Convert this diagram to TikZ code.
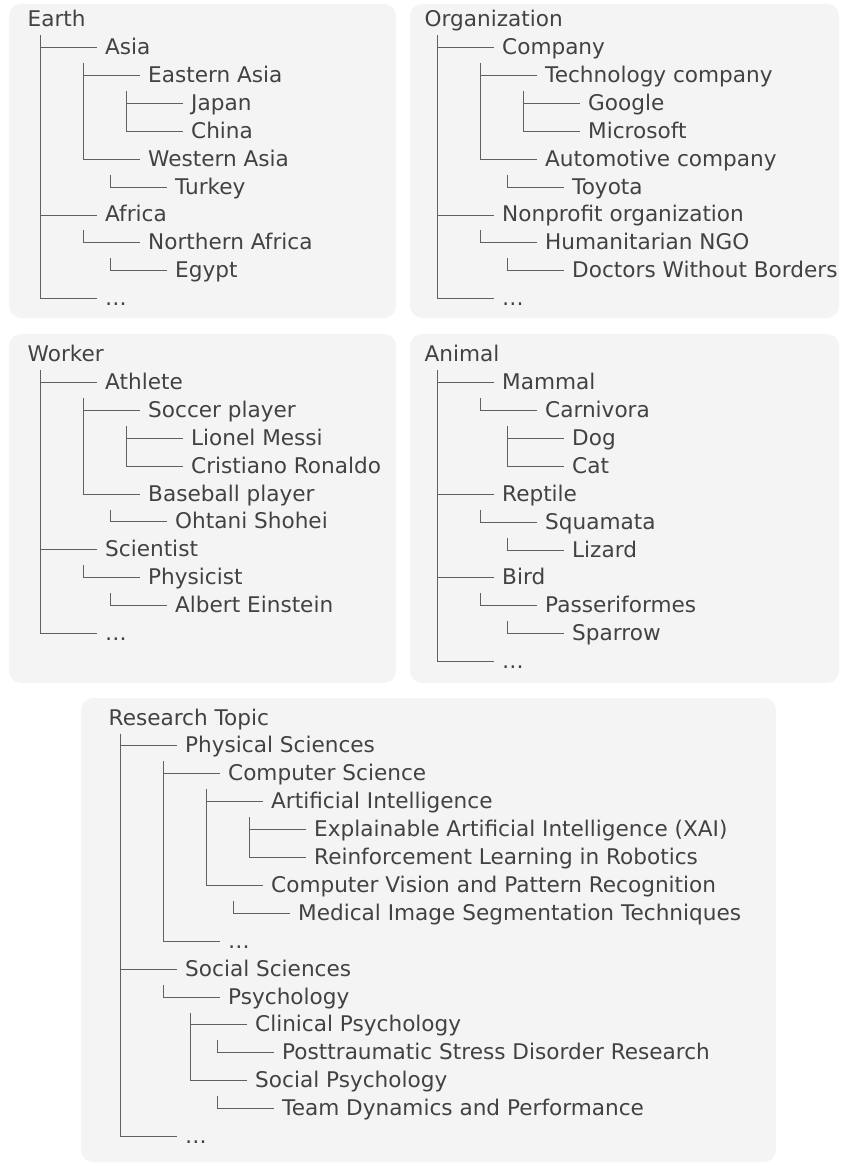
\documentclass[tikz,border=0pt]{standalone}
\usepackage{fontspec}
\setmainfont{DejaVu Sans}
\definecolor{boxbg}{HTML}{F4F4F4}
\definecolor{txt}{HTML}{424242}
\definecolor{ln}{HTML}{606060}
\tikzset{
  panel/.style={fill=boxbg, draw=none, rounded corners=12pt},
  lbl/.style={anchor=base west, inner sep=0pt, text=txt, font=\fontsize{21.6}{26}\selectfont},
  tree/.style={draw=ln, line width=0.95pt},
}
\newcommand\chain[3]{\coordinate (#1) at (#2,{\yo+27.9*#3+8.5});}
\newcommand\kid[5]{\node[lbl] (#1) at ({#3+65},{\yo+27.9*#4}) {#5};
  \draw[tree] (#2) |- ([xshift=-8pt,yshift=7pt]#1.base west);}
\begin{document}
\begin{tikzpicture}[x=1pt,y=-1pt]
\useasboundingbox (0,0) rectangle (840,1166);
% panels
\path[panel] (9,4) rectangle (396,318);
\path[panel] (410,4) rectangle (839,318);
\path[panel] (9,334) rectangle (396,683);
\path[panel] (410,334) rectangle (839,683);
\path[panel] (81,698) rectangle (776,1162);

% ---- Earth ----
\def\yo{26.7}
\node[lbl] (earth) at (27.5,\yo) {Earth};
\chain{ea1}{40}{0}
\kid{asia}{ea1}{40}{1}{Asia}
\kid{africa}{ea1}{40}{7}{Africa}
\kid{edots}{ea1}{40}{10}{…}
\chain{ea2}{83}{1}
\kid{easia}{ea2}{83}{2}{Eastern Asia}
\kid{wasia}{ea2}{83}{5}{Western Asia}
\chain{ea3}{126}{2}
\kid{japan}{ea3}{126}{3}{Japan}
\kid{china}{ea3}{126}{4}{China}
\chain{ea4}{110}{5}
\kid{turkey}{ea4}{110}{6}{Turkey}
\chain{ea5}{83}{7}
\kid{nafrica}{ea5}{83}{8}{Northern Africa}
\chain{ea6}{110}{8}
\kid{egypt}{ea6}{110}{9}{Egypt}

% ---- Organization ----
\def\yo{26.7}
\node[lbl] (org) at (424.5,\yo) {Organization};
\chain{oa1}{437}{0}
\kid{company}{oa1}{437}{1}{Company}
\kid{nonprofit}{oa1}{437}{7}{Nonprofit organization}
\kid{odots}{oa1}{437}{10}{…}
\chain{oa2}{480}{1}
\kid{tech}{oa2}{480}{2}{Technology company}
\kid{auto}{oa2}{480}{5}{Automotive company}
\chain{oa3}{523}{2}
\kid{google}{oa3}{523}{3}{Google}
\kid{microsoft}{oa3}{523}{4}{Microsoft}
\chain{oa4}{507}{5}
\kid{toyota}{oa4}{507}{6}{Toyota}
\chain{oa5}{480}{7}
\kid{ngo}{oa5}{480}{8}{Humanitarian NGO}
\chain{oa6}{507}{8}
\kid{msf}{oa6}{507}{9}{Doctors Without Borders}

% ---- Worker ----
\def\yo{361.5}
\node[lbl] (worker) at (27.5,\yo) {Worker};
\chain{wa1}{40}{0}
\kid{athlete}{wa1}{40}{1}{Athlete}
\kid{scientist}{wa1}{40}{7}{Scientist}
\kid{wdots}{wa1}{40}{10}{…}
\chain{wa2}{83}{1}
\kid{soccer}{wa2}{83}{2}{Soccer player}
\kid{baseball}{wa2}{83}{5}{Baseball player}
\chain{wa3}{126}{2}
\kid{messi}{wa3}{126}{3}{Lionel Messi}
\kid{ronaldo}{wa3}{126}{4}{Cristiano Ronaldo}
\chain{wa4}{110}{5}
\kid{ohtani}{wa4}{110}{6}{Ohtani Shohei}
\chain{wa5}{83}{7}
\kid{physicist}{wa5}{83}{8}{Physicist}
\chain{wa6}{110}{8}
\kid{einstein}{wa6}{110}{9}{Albert Einstein}

% ---- Animal ----
\def\yo{361.7}
\node[lbl] (animal) at (424.5,\yo) {Animal};
\chain{aa1}{437}{0}
\kid{mammal}{aa1}{437}{1}{Mammal}
\kid{reptile}{aa1}{437}{5}{Reptile}
\kid{bird}{aa1}{437}{8}{Bird}
\kid{adots}{aa1}{437}{11}{…}
\chain{aa2}{480}{1}
\kid{carnivora}{aa2}{480}{2}{Carnivora}
\chain{aa3}{507}{2}
\kid{dog}{aa3}{507}{3}{Dog}
\kid{cat}{aa3}{507}{4}{Cat}
\chain{aa4}{480}{5}
\kid{squamata}{aa4}{480}{6}{Squamata}
\chain{aa5}{507}{6}
\kid{lizard}{aa5}{507}{7}{Lizard}
\chain{aa6}{480}{8}
\kid{passer}{aa6}{480}{9}{Passeriformes}
\chain{aa7}{507}{9}
\kid{sparrow}{aa7}{507}{10}{Sparrow}

% ---- Research Topic ----
\def\yo{725}
\node[lbl] (research) at (108.5,\yo) {Research Topic};
\chain{ra1}{120}{0}
\kid{phys}{ra1}{120}{1}{Physical Sciences}
\kid{social}{ra1}{120}{9}{Social Sciences}
\kid{rdots}{ra1}{120}{15}{…}
\chain{ra2}{163}{1}
\kid{cs}{ra2}{163}{2}{Computer Science}
\kid{csdots}{ra2}{163}{8}{…}
\chain{ra3}{206}{2}
\kid{ai}{ra3}{206}{3}{Artificial Intelligence}
\kid{cv}{ra3}{206}{6}{Computer Vision and Pattern Recognition}
\chain{ra4}{249}{3}
\kid{xai}{ra4}{249}{4}{Explainable Artificial Intelligence (XAI)}
\kid{rl}{ra4}{249}{5}{Reinforcement Learning in Robotics}
\chain{ra5}{233}{6}
\kid{medical}{ra5}{233}{7}{Medical Image Segmentation Techniques}
\chain{ra6}{163}{9}
\kid{psych}{ra6}{163}{10}{Psychology}
\chain{ra7}{190}{10}
\kid{clinical}{ra7}{190}{11}{Clinical Psychology}
\kid{socpsy}{ra7}{190}{13}{Social Psychology}
\chain{ra8}{217}{11}
\kid{ptsd}{ra8}{217}{12}{Posttraumatic Stress Disorder Research}
\chain{ra9}{217}{13}
\kid{team}{ra9}{217}{14}{Team Dynamics and Performance}
\end{tikzpicture}
\end{document}
